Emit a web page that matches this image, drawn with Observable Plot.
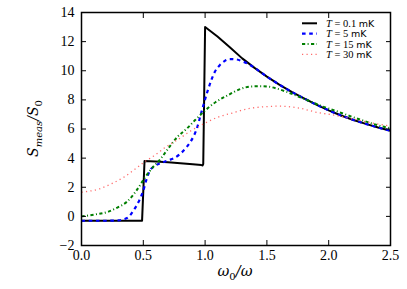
<!DOCTYPE html>
<html><head><meta charset="utf-8">
<script src="https://cdn.jsdelivr.net/npm/d3@7"></script>
<script src="https://cdn.jsdelivr.net/npm/@observablehq/plot@0.6"></script>
<style>
body{margin:0;background:#fff;}
#wrap{width:407px;height:289px;}
</style></head><body><div id="wrap"></div><script>
// ---- data ----
const ticksX = [0, 0.5, 1, 1.5, 2, 2.5];
const ticksY = [-2, 0, 2, 4, 6, 8, 10, 12, 14];

const legendLabels = ["0.1", "5", "15", "30"];

const x01 = [0, 0.49, 0.51, 0.6, 0.7, 0.8, 0.9, 0.97, 0.98, 0.985, 1.0, 1.1, 1.2, 1.3, 1.4, 1.5, 1.6, 1.7, 1.8, 1.9, 2.0, 2.1, 2.2, 2.3, 2.4, 2.5];
const y01 = [-0.3, -0.3, 3.8, 3.76, 3.71, 3.65, 3.58, 3.52, 3.5, 3.6, 13.0, 12.35, 11.62, 10.85, 10.2, 9.6, 9.05, 8.55, 8.1, 7.67, 7.28, 6.93, 6.62, 6.35, 6.1, 5.88];

const x5 = [0, 0.2, 0.3, 0.34, 0.38, 0.42, 0.46, 0.5, 0.53, 0.555, 0.6, 0.65, 0.7, 0.75, 0.8, 0.85, 0.88, 0.91, 0.936, 0.963, 0.99, 1.02, 1.05, 1.08, 1.12, 1.16, 1.2, 1.25, 1.3, 1.35, 1.4, 1.5, 1.6, 1.7, 1.8, 1.9, 2.0, 2.1, 2.2, 2.3, 2.4, 2.5];
const y5 = [-0.3, -0.3, -0.28, -0.2, -0.05, 0.4, 0.97, 1.77, 2.65, 3.15, 3.5, 3.68, 3.85, 4.0, 4.3, 4.75, 5.1, 5.55, 6.1, 6.93, 7.75, 8.6, 9.35, 9.95, 10.4, 10.68, 10.8, 10.78, 10.65, 10.47, 10.2, 9.6, 9.05, 8.55, 8.1, 7.67, 7.28, 6.93, 6.62, 6.35, 6.1, 5.88];

const x15 = [0, 0.1, 0.218, 0.3, 0.367, 0.447, 0.515, 0.58, 0.64, 0.706, 0.774, 0.85, 0.922, 1.0, 1.084, 1.18, 1.29, 1.37, 1.45, 1.52, 1.58, 1.66, 1.8, 1.96, 2.07, 2.26, 2.46, 2.5];
const y15 = [0.0, 0.12, 0.33, 0.65, 1.0, 1.8, 2.69, 3.4, 3.95, 4.71, 5.44, 6.01, 6.63, 7.27, 7.84, 8.3, 8.76, 8.92, 8.94, 8.9, 8.78, 8.55, 8.07, 7.52, 7.2, 6.63, 6.12, 6.05];

const x30 = [0, 0.14, 0.245, 0.35, 0.45, 0.52, 0.585, 0.68, 0.785, 0.88, 0.99, 1.125, 1.2, 1.34, 1.5, 1.6, 1.75, 1.93, 2.01, 2.15, 2.3, 2.42, 2.5];
const y30 = [1.66, 1.88, 2.25, 2.73, 3.35, 3.8, 4.15, 4.75, 5.3, 5.85, 6.36, 6.88, 7.05, 7.38, 7.54, 7.57, 7.45, 7.1, 7.0, 6.77, 6.5, 6.31, 6.2];

// ---- styles ----
const styles = [
  {xs: x01, ys: y01, stroke: "#000000", width: 2, dash: null, curve: "linear"},
  {xs: x5, ys: y5, stroke: "#0000ff", width: 2.2, dash: "3.6,3.6", curve: "monotone-x"},
  {xs: x15, ys: y15, stroke: "#007f00", width: 2, dash: "3.2,2.4,1,2.4", curve: "monotone-x"},
  {xs: x30, ys: y30, stroke: "#ff6a6a", width: 1.3, dash: "1.2,3.3", curve: "monotone-x"}
];

const fmtY = d => d < 0 ? "\u2212" + Math.abs(d) : String(d);
const fmtX = d => d.toFixed(1);
const serif = "'Liberation Serif', serif";
const mathFont = "'DejaVu Serif', serif";

const lineMarks = styles.map(s => Plot.line(
  s.xs.map((x, i) => ({x, y: s.ys[i]})),
  {x: "x", y: "y", stroke: s.stroke, strokeWidth: s.width, strokeDasharray: s.dash,
   strokeLinecap: "butt", strokeLinejoin: "round", curve: s.curve}
));

const chart = Plot.plot({
  width: 407, height: 289,
  marginLeft: 81, marginRight: 17, marginTop: 12, marginBottom: 44,
  style: {fontFamily: serif, fontSize: "14px", color: "#000", background: "#fff", overflow: "visible"},
  x: {domain: [0, 2.5]},
  y: {domain: [-2, 14]},
  marks: [
    ...lineMarks,
    Plot.axisX(ticksX, {anchor: "bottom", tickSize: -5, tickPadding: 10, tickFormat: fmtX, label: null, fontSize: 14}),
    Plot.axisX(ticksX, {anchor: "top", tickSize: -5, tickFormat: () => "", label: null}),
    Plot.axisY(ticksY, {anchor: "left", tickSize: -5, tickPadding: 12, tickFormat: fmtY, label: null, fontSize: 14}),
    Plot.axisY(ticksY, {anchor: "right", tickSize: -5, tickFormat: () => "", label: null}),
    Plot.frame({stroke: "#000", strokeWidth: 1.5})
  ]
});
document.getElementById("wrap").appendChild(chart);

// ---- axis labels & legend (layout) ----
const svg = d3.select(chart);

const yl = svg.append("text")
  .attr("transform", "translate(38,128.5) rotate(-90)")
  .attr("text-anchor", "middle")
  .attr("font-family", mathFont).attr("font-size", 14)
  .attr("fill", "#000");
yl.append("tspan").attr("font-style", "italic").text("S");
yl.append("tspan").attr("font-style", "italic").attr("font-size", 10).attr("dy", 3.5).text("meas");
yl.append("tspan").attr("dy", -3.5).attr("font-style", "italic").text("/");
yl.append("tspan").attr("font-style", "italic").text("S");
yl.append("tspan").attr("font-size", 10).attr("dy", 3.5).text("0");

const xl = svg.append("text")
  .attr("x", 235).attr("y", 276)
  .attr("text-anchor", "middle")
  .attr("font-family", mathFont).attr("font-size", 14.5)
  .attr("fill", "#000");
xl.append("tspan").attr("font-style", "italic").text("\u03C9");
xl.append("tspan").attr("font-size", 10).attr("dy", 3.5).text("0");
xl.append("tspan").attr("dy", -3.5).attr("font-style", "italic").text("/");
xl.append("tspan").attr("font-style", "italic").text("\u03C9");

const lg = svg.append("g").attr("text-anchor", "start");
styles.forEach((s, i) => {
  const cy = 23.3 + i * 10.35;
  lg.append("line").attr("x1", 302).attr("x2", 317).attr("y1", cy).attr("y2", cy)
    .attr("stroke", s.stroke).attr("stroke-width", s.width)
    .attr("stroke-linecap", "butt")
    .attr("stroke-dasharray", s.dash);
  const t = lg.append("text").attr("x", 326).attr("y", cy + 3.6)
    .attr("text-anchor", "start")
    .attr("font-size", 10.5).attr("fill", "#000").attr("font-family", serif)
    .style("white-space", "pre");
  t.append("tspan").attr("font-style", "italic").text("T");
  t.append("tspan").text(" = " + legendLabels[i] + " ");
  t.append("tspan").attr("font-family", "'DejaVu Sans', sans-serif").attr("font-size", 9.5).text("mK");
});
</script></body></html>
